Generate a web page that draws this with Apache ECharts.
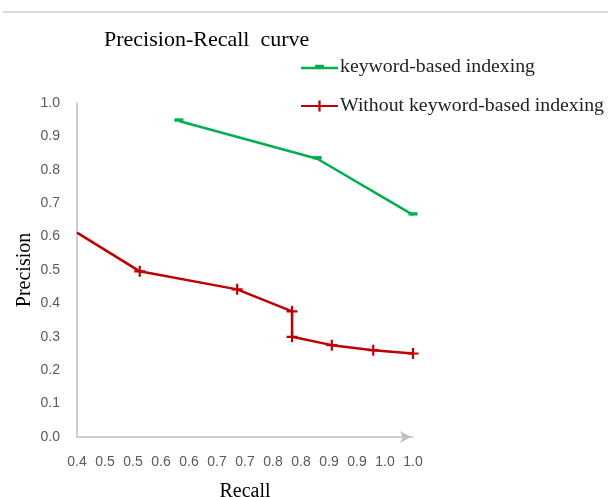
<!DOCTYPE html>
<html>
<head>
<meta charset="utf-8">
<script src="https://cdn.jsdelivr.net/npm/echarts@6/dist/echarts.min.js"></script>
<style>
  html, body { margin: 0; padding: 0; background: #fff; }
  #chart { width: 608px; height: 497px; }
</style>
</head>
<body>
<div id="chart"></div>
<script>
// 数据
const seriesNames = ['keyword-based indexing', 'Without keyword-based indexing'];
const keywordRecall = [0.582, 0.829, 1.0];
const keywordPrecision = [0.946, 0.833, 0.665];
const plainRecall = [0.4, 0.512, 0.686, 0.784, 0.784, 0.855, 0.929, 1.0];
const plainPrecision = [0.612, 0.496, 0.442, 0.376, 0.30, 0.275, 0.26, 0.25];
const xTickLabels = ['0.4', '0.5', '0.5', '0.6', '0.6', '0.7', '0.7', '0.8', '0.8', '0.9', '0.9', '1.0', '1.0'];

const green = '#00b050';
const red = '#c00000';
const axisGray = '#bfbfbf';
const plusPath = 'path://M4,0h2v4h4v2h-4v4h-2v-4h-4v-2h4z';
const dashPath = 'path://M0,0h8v3h-8z';
// 图例里的绿色图标：线段中间带一小段凸起
const greenLegendIcon = 'path://M0,2h14v-2h9v2h14v2.5h-37z';

const chart = echarts.init(document.getElementById('chart'));

const option = {
  animation: false,
  title: {
    text: 'Precision-Recall  curve',
    left: 104,
    top: 29,
    padding: 0,
    textStyle: {
      fontFamily: 'Liberation Serif',
      fontSize: 22,
      fontWeight: 'normal',
      color: '#000'
    }
  },
  legend: {
    orient: 'vertical',
    left: 300,
    top: 57,
    padding: 0,
    itemWidth: 37,
    itemHeight: 14,
    itemGap: 19,
    data: [
      {name: seriesNames[0], icon: greenLegendIcon},
      {name: seriesNames[1]}
    ],
    textStyle: {
      fontFamily: 'Liberation Serif',
      fontSize: 19.8,
      color: '#222',
      padding: [0, 0, 0, -3]
    }
  },
  graphic: [
    {
      type: 'line',
      shape: {x1: 3, y1: 12, x2: 608, y2: 12},
      style: {stroke: '#d9d9d9', lineWidth: 2}
    }
  ],
  grid: {
    left: 77,
    right: 195,
    top: 103,
    bottom: 60,
    containLabel: false,
    outerBoundsMode: 'none'
  },
  xAxis: {
    type: 'value',
    min: 0.4,
    max: 1.0,
    interval: 0.05,
    name: 'Recall',
    nameLocation: 'middle',
    nameGap: 45,
    nameTextStyle: {
      fontFamily: 'Liberation Serif',
      fontSize: 20,
      color: '#000'
    },
    axisLine: {
      show: true,
      symbol: ['none', 'arrow'],
      symbolSize: [9, 11],
      symbolOffset: [0, -2],
      lineStyle: {color: axisGray, width: 1.5}
    },
    axisTick: {show: false},
    splitLine: {show: false},
    axisLabel: {
      margin: 18,
      fontFamily: 'Liberation Sans',
      fontSize: 14,
      color: '#595959',
      formatter: v => xTickLabels[Math.round((v - 0.4) / 0.05)]
    }
  },
  yAxis: {
    type: 'value',
    min: 0,
    max: 1.0,
    interval: 0.1,
    name: 'Precision',
    nameLocation: 'middle',
    nameGap: 42,
    nameMoveOverlap: false,
    nameTextStyle: {
      fontFamily: 'Liberation Serif',
      fontSize: 20,
      color: '#000'
    },
    axisLine: {
      show: true,
      lineStyle: {color: axisGray, width: 1.5}
    },
    axisTick: {show: false},
    splitLine: {show: false},
    axisLabel: {
      margin: 17,
      fontFamily: 'Liberation Sans',
      fontSize: 14,
      color: '#595959',
      formatter: v => v.toFixed(1)
    }
  },
  series: [
    {
      name: seriesNames[0],
      type: 'line',
      data: keywordRecall.map((x, i) => [x, keywordPrecision[i]]),
      symbol: dashPath,
      symbolSize: 9,
      symbolKeepAspect: true,
      symbolOffset: [0, -1],
      showAllSymbol: true,
      lineStyle: {color: green, width: 2.5},
      itemStyle: {color: green}
    },
    {
      name: seriesNames[1],
      type: 'line',
      data: plainRecall.map((x, i) => ({
        value: [x, plainPrecision[i]],
        symbol: i === 0 ? 'none' : plusPath
      })),
      symbol: plusPath,
      symbolSize: 11,
      showAllSymbol: true,
      lineStyle: {color: red, width: 2.5},
      itemStyle: {color: red}
    }
  ]
};

chart.setOption(option);
</script>
</body>
</html>
